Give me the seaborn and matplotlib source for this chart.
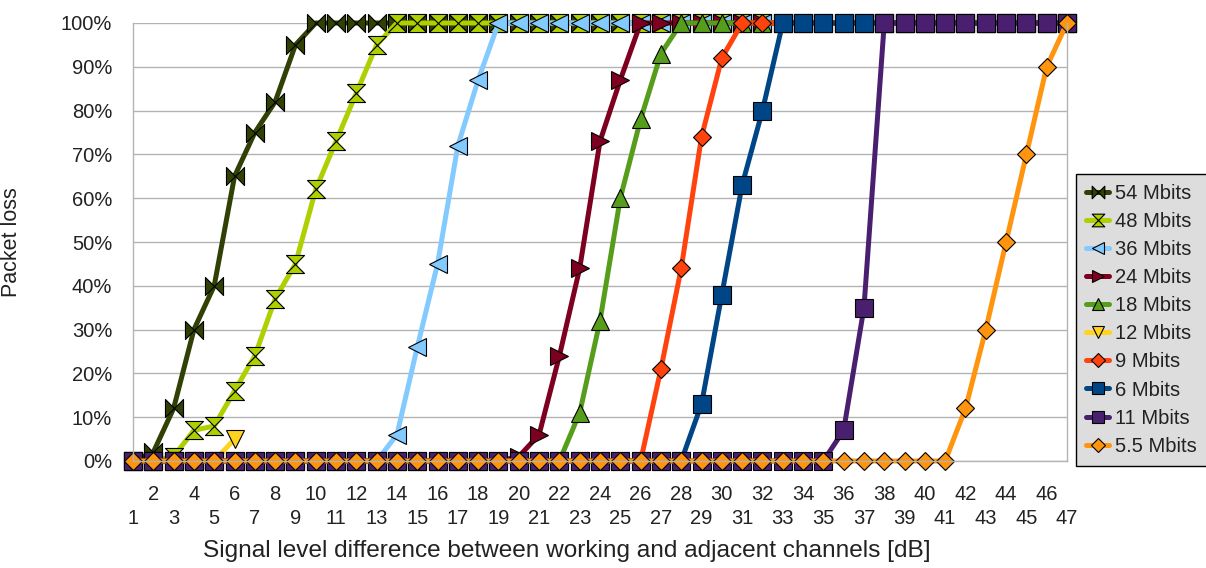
import matplotlib
matplotlib.use("Agg")
import matplotlib.pyplot as plt
from matplotlib.path import Path
import seaborn as sns

# Signal level difference [dB] categories
db_levels = list(range(1, 48))

# Packet loss [%] per data rate
loss_54 = [0, 2, 12, 30, 40, 65, 75, 82, 95, 100, 100, 100, 100, 100, 100, 100,
           100, 100, 100, 100, 100, 100, 100, 100, 100, 100, 100, 100, 100, 100,
           100, 100, 100, 100, 100, 100, 100, 100, 100, 100, 100, 100, 100, 100,
           100, 100, 100]
loss_48 = [0, 0, 1, 7, 8, 16, 24, 37, 45, 62, 73, 84, 95, 100, 100, 100,
           100, 100, 100, 100, 100, 100, 100, 100, 100, 100, 100, 100, 100, 100,
           100, 100, 100, 100, 100, 100, 100, 100, 100, 100, 100, 100, 100, 100,
           100, 100, 100]
loss_36 = [0, 0, 0, 0, 0, 0, 0, 0, 0, 0, 0, 0, 0, 6, 26, 45, 72, 87, 100, 100,
           100, 100, 100, 100, 100, 100, 100, 100, 100, 100, 100, 100, 100, 100,
           100, 100, 100, 100, 100, 100, 100, 100, 100, 100, 100, 100, 100]
loss_24 = [0, 0, 0, 0, 0, 0, 0, 0, 0, 0, 0, 0, 0, 0, 0, 0, 0, 0, 0, 1, 6, 24,
           44, 73, 87, 100, 100, 100, 100, 100, 100, 100, 100, 100, 100, 100,
           100, 100, 100, 100, 100, 100, 100, 100, 100, 100, 100]
loss_18 = [0, 0, 0, 0, 0, 0, 0, 0, 0, 0, 0, 0, 0, 0, 0, 0, 0, 0, 0, 0, 0, 0,
           11, 32, 60, 78, 93, 100, 100, 100, 100, 100, 100, 100, 100, 100, 100,
           100, 100, 100, 100, 100, 100, 100, 100, 100, 100]
loss_12 = [0, 0, 0, 0, 0, 5]
loss_9 = [0, 0, 0, 0, 0, 0, 0, 0, 0, 0, 0, 0, 0, 0, 0, 0, 0, 0, 0, 0, 0, 0, 0,
          0, 0, 0, 21, 44, 74, 92, 100, 100, 100, 100, 100, 100, 100, 100, 100,
          100, 100, 100, 100, 100, 100, 100, 100]
loss_6 = [0, 0, 0, 0, 0, 0, 0, 0, 0, 0, 0, 0, 0, 0, 0, 0, 0, 0, 0, 0, 0, 0, 0,
          0, 0, 0, 0, 0, 13, 38, 63, 80, 100, 100, 100, 100, 100, 100, 100, 100,
          100, 100, 100, 100, 100, 100, 100]
loss_11 = [0, 0, 0, 0, 0, 0, 0, 0, 0, 0, 0, 0, 0, 0, 0, 0, 0, 0, 0, 0, 0, 0,
           0, 0, 0, 0, 0, 0, 0, 0, 0, 0, 0, 0, 0, 7, 35, 100, 100, 100, 100, 100,
           100, 100, 100, 100, 100]
loss_5_5 = [0, 0, 0, 0, 0, 0, 0, 0, 0, 0, 0, 0, 0, 0, 0, 0, 0, 0, 0, 0, 0, 0,
            0, 0, 0, 0, 0, 0, 0, 0, 0, 0, 0, 0, 0, 0, 0, 0, 0, 0, 0, 12, 30, 50,
            70, 90, 100]

series_names = ["54 Mbits", "48 Mbits", "36 Mbits", "24 Mbits", "18 Mbits",
                "12 Mbits", "9 Mbits", "6 Mbits", "11 Mbits", "5.5 Mbits"]
series_values = [loss_54, loss_48, loss_36, loss_24, loss_18,
                 loss_12, loss_9, loss_6, loss_11, loss_5_5]
series_colors = ["#314004", "#aecf00", "#83caff", "#7e0021", "#579d1c",
                 "#ffd320", "#ff420e", "#004586", "#4b1f6f", "#ff950e"]

# Custom marker shapes: horizontal bow-tie and vertical hourglass
bowtie = Path([(-1, -1), (1, 1), (1, -1), (-1, 1), (-1, -1)],
              [Path.MOVETO, Path.LINETO, Path.LINETO, Path.LINETO, Path.CLOSEPOLY])
hourglass = Path([(-1, -1), (1, 1), (-1, 1), (1, -1), (-1, -1)],
                 [Path.MOVETO, Path.LINETO, Path.LINETO, Path.LINETO, Path.CLOSEPOLY])
series_markers = [bowtie, hourglass, "<", ">", "^", "v", "D", "s", "s", "D"]
marker_sizes = [13, 13, 13, 13, 13, 13, 9.5, 13, 13, 9.5]

sns.set_style("white")
plt.rcParams["font.family"] = ["Liberation Sans", "DejaVu Sans"]
text_color = "#222222"
grid_color = "#b3b3b3"
fs = 14.5

fig = plt.figure(figsize=(12.06, 5.68), dpi=100)
ax = fig.add_axes([133 / 1206, 1 - 461 / 568, 934 / 1206, 438 / 568])

for name, vals, col, mk, ms in zip(series_names, series_values, series_colors,
                                   series_markers, marker_sizes):
    sns.lineplot(x=db_levels[:len(vals)], y=vals, ax=ax, color=col,
                 marker=mk, markersize=ms, markeredgecolor="black",
                 markeredgewidth=0.8, linewidth=3.6, label=name,
                 errorbar=None, clip_on=False)

ax.set_xlim(1, 47)
ax.set_ylim(0, 100)

ax.set_yticks(list(range(0, 101, 10)))
ax.set_yticklabels([f"{v}%" for v in range(0, 101, 10)], fontsize=fs, color=text_color)
ax.set_xticks(db_levels)
ax.set_xticklabels([str(v) if v % 2 == 0 else "\n" + str(v) for v in db_levels],
                   fontsize=fs, color=text_color)
for lbl in ax.get_xticklabels():
    lbl.set_linespacing(1.32)

ax.tick_params(axis="x", direction="inout", length=14, width=1, color=grid_color, pad=10.5)
ax.tick_params(axis="y", direction="out", length=7, width=1, color=grid_color, pad=8)

ax.yaxis.grid(True, color=grid_color, linewidth=1)
ax.xaxis.grid(False)
ax.set_axisbelow(True)
ax.spines["top"].set_visible(False)
for side in ("left", "right", "bottom"):
    ax.spines[side].set_color(grid_color)
    ax.spines[side].set_linewidth(1)

ax.set_xlabel("")
ax.set_ylabel("Packet loss", fontsize=15.5, color=text_color)
ax.yaxis.set_label_coords((22 - 133) / 934, 0.5)
fig.text(567 / 1206, 1 - 551 / 568,
         "Signal level difference between working and adjacent channels [dB]",
         ha="center", va="center", fontsize=17.6, color=text_color)

leg = ax.legend(loc="upper left", bbox_to_anchor=(1076 / 1206, 1 - 174 / 568),
                bbox_transform=fig.transFigure, fontsize=fs, frameon=True,
                fancybox=False, borderpad=0.5, handlelength=1.15,
                handletextpad=0.3, labelspacing=0.45, markerscale=0.7,
                borderaxespad=0)
leg.get_frame().set_facecolor("#dddddd")
leg.get_frame().set_edgecolor("black")
leg.get_frame().set_linewidth(1)
leg.get_frame().set_alpha(1)
for t in leg.get_texts():
    t.set_color(text_color)

fig.savefig("out.png", dpi=100)
